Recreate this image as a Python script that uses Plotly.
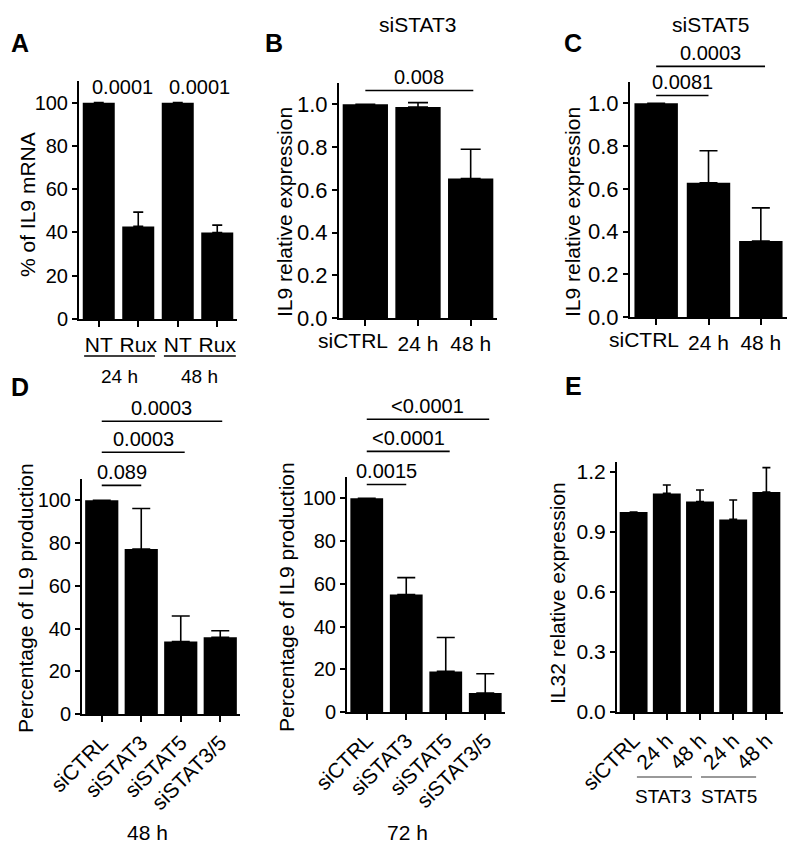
import plotly.graph_objects as go

# ---------------- data ----------------
A_labels = ["NT", "Rux", "NT", "Rux"]
A_vals = [100, 42.8, 100, 40.0]
A_err = [0, 6.6, 0, 3.4]
A_groups = ["24 h", "48 h"]
A_p = ["0.0001", "0.0001"]

B_labels = ["siCTRL", "24 h", "48 h"]
B_vals = [1.0, 0.988, 0.653]
B_err = [0, 0.02, 0.137]
B_title = "siSTAT3"
B_p = ["0.008"]

C_labels = ["siCTRL", "24 h", "48 h"]
C_vals = [1.0, 0.628, 0.356]
C_err = [0, 0.15, 0.155]
C_title = "siSTAT5"
C_p = ["0.0081", "0.0003"]

D_labels = ["siCTRL", "siSTAT3", "siSTAT5", "siSTAT3/5"]
D48_vals = [100, 77.2, 33.9, 35.9]
D48_err = [0, 19.0, 12.0, 3.1]
D48_p = ["0.089", "0.0003", "0.0003"]
D72_vals = [100, 55.0, 19.0, 8.9]
D72_err = [0, 7.9, 15.9, 9.0]
D72_p = ["0.0015", "<0.0001", "<0.0001"]

E_labels = ["siCTRL", "24 h", "48 h", "24 h", "48 h"]
E_vals = [1.0, 1.093, 1.052, 0.963, 1.10]
E_err = [0, 0.042, 0.058, 0.097, 0.122]
E_groups = ["STAT3", "STAT5"]

# ---------------- layout helpers ----------------
W, H = 800, 856
OFF = 8  # page body margin
FONT = "Liberation Sans, Arial, Helvetica, sans-serif"
FS = 20

panels = [
    dict(i=1, xpx=(79, 237), ypx=(319, 81), yr=(0, 110), bw=0.81, lab=A_labels, v=A_vals, e=A_err,
         yt="% of IL9 mRNA", tv=[0, 20, 40, 60, 80, 100], fmt="d", ang=0, ytpos=(27, 205),
         yfs=20, xfs=21, cap=5, shift_first=False),
    dict(i=2, xpx=(339, 497), ypx=(318, 83), yr=(0, 1.1), bw=0.86, lab=B_labels, v=B_vals, e=B_err,
         yt="IL9 relative expression", tv=[0, 0.2, 0.4, 0.6, 0.8, 1.0], fmt=".1f", ang=0,
         ytpos=(285, 212), yfs=22, xfs=21, cap=10, shift_first=True),
    dict(i=3, xpx=(630, 787), ypx=(317, 82), yr=(0, 1.1), bw=0.83, lab=C_labels, v=C_vals, e=C_err,
         yt="IL9 relative expression", tv=[0, 0.2, 0.4, 0.6, 0.8, 1.0], fmt=".1f", ang=0,
         ytpos=(573, 212), yfs=22, xfs=21, cap=9, shift_first=True),
    dict(i=4, xpx=(82, 240), ypx=(714, 479), yr=(0, 110), bw=0.84, lab=D_labels, v=D48_vals, e=D48_err,
         yt="Percentage of IL9 production", tv=[0, 20, 40, 60, 80, 100], fmt="d", ang=-45,
         ytpos=(25, 598), yfs=20, xfs=21, cap=9, shift_first=False),
    dict(i=5, xpx=(347, 505), ypx=(712, 477), yr=(0, 110), bw=0.83, lab=D_labels, v=D72_vals, e=D72_err,
         yt="Percentage of IL9 production", tv=[0, 20, 40, 60, 80, 100], fmt="d", ang=-45,
         ytpos=(286, 597), yfs=20, xfs=21, cap=9, shift_first=False),
    dict(i=6, xpx=(617, 783), ypx=(712, 462), yr=(0, 1.25), bw=0.84, lab=E_labels, v=E_vals, e=E_err,
         yt="IL32 relative expression", tv=[0, 0.3, 0.6, 0.9, 1.2], fmt=".1f", ang=-45,
         ytpos=(557, 593), yfs=21, xfs=21, cap=4, shift_first=False),
]
P = {p["i"]: p for p in panels}


def px_x(i, x):
    p = P[i]
    n = len(p["lab"])
    x0, x1 = p["xpx"]
    return (x0 - OFF + (x + 0.5) / n * (x1 - x0)) / W


def px_y(i, y):
    p = P[i]
    yb, yt = p["ypx"]
    r0, r1 = p["yr"]
    return 1 - (yb - OFF - (y - r0) / (r1 - r0) * (yb - yt)) / H


fig = go.Figure()
layout = dict(
    width=W, height=H, margin=dict(l=0, r=0, t=0, b=0, autoexpand=False),
    paper_bgcolor="white", plot_bgcolor="white",
    font=dict(family=FONT, size=FS, color="black"),
    showlegend=False,
)

shapes = []
ann = []


def text(x, y, t, size=FS, bold=False, angle=0):
    ann.append(dict(xref="paper", yref="paper", x=(x - OFF) / W, y=1 - (y - OFF) / H,
                    text=("<b>%s</b>" % t) if bold else t, showarrow=False, textangle=angle,
                    xanchor="center", yanchor="middle", font=dict(size=size)))


for p in panels:
    i = p["i"]
    sx = "" if i == 1 else str(i)
    n = len(p["lab"])
    xs = list(range(n))
    fig.add_trace(go.Bar(
        x=xs, y=p["v"], width=p["bw"], xaxis="x" + sx, yaxis="y" + sx,
        marker=dict(color="black", line=dict(width=0)),
        error_y=dict(type="data", array=p["e"], arrayminus=[0] * n, symmetric=False,
                     color="black", thickness=1.6, width=p["cap"]),
    ))
    ticktext = list(p["lab"])
    if p["shift_first"]:
        # first label sits slightly left of its tick in the original
        ann.append(dict(xref="x" + sx, yref="paper", x=-0.23, y=px_y(i, 0),
                        yshift=-9, text=ticktext[0], showarrow=False, xanchor="center",
                        yanchor="top", font=dict(size=p["xfs"])))
        ticktext[0] = ""
    layout["xaxis" + sx] = dict(
        domain=[(p["xpx"][0] - OFF) / W, (p["xpx"][1] - OFF) / W], anchor="y" + sx,
        range=[-0.5, n - 0.5], tickvals=xs, ticktext=ticktext, tickangle=p["ang"],
        showline=True, linecolor="black", linewidth=2, ticks="outside", ticklen=6,
        tickwidth=2, tickcolor="black", showgrid=False, zeroline=False, fixedrange=True,
        tickfont=dict(size=p["xfs"]), automargin=False,
    )
    layout["yaxis" + sx] = dict(
        domain=[1 - (p["ypx"][0] - OFF) / H, 1 - (p["ypx"][1] - OFF) / H], anchor="x" + sx,
        range=list(p["yr"]), tickvals=p["tv"], tickformat=p["fmt"],
        showline=True, linecolor="black", linewidth=2, ticks="outside", ticklen=5,
        tickwidth=2, tickcolor="black", showgrid=False, zeroline=False, fixedrange=True,
        tickfont=dict(size=p["yfs"]), automargin=False,
    )
    # y-axis title placed as rotated text
    text(p["ytpos"][0], p["ytpos"][1], p["yt"], size=21, angle=-90)

fig.update_layout(**layout)


def bracket(i, xa, xb, y, t):
    shapes.append(dict(type="line", xref="paper", yref="paper",
                       x0=px_x(i, xa), x1=px_x(i, xb), y0=px_y(i, y), y1=px_y(i, y),
                       line=dict(color="black", width=1.6)))
    ann.append(dict(xref="paper", yref="paper", x=(px_x(i, xa) + px_x(i, xb)) / 2,
                    y=px_y(i, y), text=t, showarrow=False, xanchor="center",
                    yanchor="bottom", font=dict(size=FS)))


# Panel A p-values (no brackets) and group lines
ann.append(dict(xref="paper", yref="paper", x=px_x(1, 0.6), y=px_y(1, 107), text=A_p[0],
                showarrow=False, xanchor="center", yanchor="middle", font=dict(size=FS)))
ann.append(dict(xref="paper", yref="paper", x=px_x(1, 2.55), y=px_y(1, 107), text=A_p[1],
                showarrow=False, xanchor="center", yanchor="middle", font=dict(size=FS)))
for (xa, xb), g in zip([(-0.37, 1.42), (1.65, 3.47)], A_groups):
    shapes.append(dict(type="line", xref="paper", yref="paper", x0=px_x(1, xa), x1=px_x(1, xb),
                       y0=1 - (356 - OFF) / H, y1=1 - (356 - OFF) / H,
                       line=dict(color="black", width=1.6)))
    ann.append(dict(xref="paper", yref="paper", x=(px_x(1, xa) + px_x(1, xb)) / 2,
                    y=1 - (376 - OFF) / H, text=g, showarrow=False, xanchor="center",
                    yanchor="middle", font=dict(size=19)))

# Panel B/C brackets
bracket(2, 0, 2.05, 1.065, B_p[0])
bracket(3, 0, 1.0, 1.037, C_p[0])
bracket(3, 0, 2.08, 1.173, C_p[1])

# Panel D brackets
for (xb, y), t in zip([(1.0, 107), (2.1, 122.5), (3.05, 137)], D48_p):
    bracket(4, 0, xb, y, t)
for (xb, y), t in zip([(1.0, 106.5), (2.1, 122), (3.1, 137)], D72_p):
    bracket(5, 0, xb, y, t)

# Panel E group lines
for (xa, xb), g, tx in zip([(0.1, 1.76), (2.03, 3.69)], E_groups, [0.9, 2.87]):
    shapes.append(dict(type="line", xref="paper", yref="paper", x0=px_x(6, xa), x1=px_x(6, xb),
                       y0=1 - (777 - OFF) / H, y1=1 - (777 - OFF) / H,
                       line=dict(color="#777777", width=1.6)))
    ann.append(dict(xref="paper", yref="paper", x=px_x(6, tx), y=1 - (796 - OFF) / H, text=g,
                    showarrow=False, xanchor="center", yanchor="middle", font=dict(size=19)))

# Titles and panel letters
text(418, 24, B_title, size=21)
text(710, 25, C_title, size=21)
text(147, 832, "48 h", size=21)
text(407, 832, "72 h", size=21)
text(20, 43, "A", size=25, bold=True)
text(274, 43, "B", size=25, bold=True)
text(573, 43, "C", size=25, bold=True)
text(20, 387, "D", size=25, bold=True)
text(573, 386, "E", size=25, bold=True)

fig.update_layout(shapes=shapes, annotations=ann)
fig.write_html("out.html")
